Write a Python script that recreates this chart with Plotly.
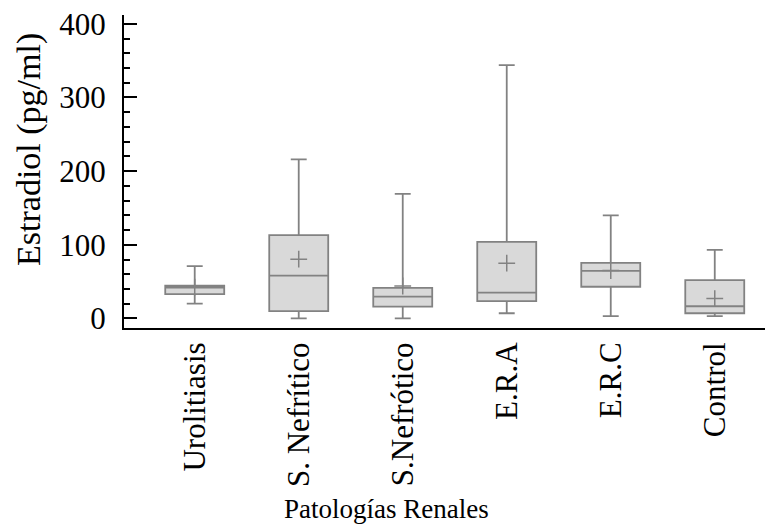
import plotly.graph_objects as go

categories = ["Urolitiasis", "S. Nefrítico", "S.Nefrótico", "E.R.A", "E.R.C", "Control"]
q1 = [33, 10, 16, 23.5, 43, 7]
median = [42, 58, 29.5, 35, 64.5, 16.5]
q3 = [44.5, 113, 41.5, 104, 75.5, 52]
lowerfence = [20, 0, 0, 7, 3, 3]
upperfence = [71, 216, 169, 344, 140, 93]
means = [42.5, 80.5, 44, 75, 65, 27]

x_title = "Patologías Renales"
y_title = "Estradiol (pg/ml)"

GRAY = "#828282"
FILL = "#d9d9d9"
FONT = "'Times New Roman', 'Liberation Serif', serif"

fig = go.Figure()
fig.add_trace(go.Box(
    x=categories, q1=q1, median=median, q3=q3,
    lowerfence=lowerfence, upperfence=upperfence,
    fillcolor=FILL, line=dict(color=GRAY, width=1.8),
    whiskerwidth=0.27, boxpoints=False, showlegend=False, hoverinfo="skip",
))
fig.add_trace(go.Scatter(
    x=categories, y=means, mode="markers",
    marker=dict(symbol="cross-thin", size=12, line=dict(color=GRAY, width=1.5)),
    showlegend=False, hoverinfo="skip",
))

fig.update_layout(
    width=765, height=519,
    margin=dict(l=116, r=0, t=7, b=199),
    plot_bgcolor="white", paper_bgcolor="white",
    boxgap=0.19,
    font=dict(family=FONT, color="black", size=28),
    xaxis=dict(
        range=[-0.68, 5.56], showline=True, linecolor="black", linewidth=2,
        ticks="", tickangle=-90, tickfont=dict(size=31, family=FONT),
        showgrid=False, zeroline=False, automargin=False,
    ),
    yaxis=dict(
        range=[-13, 412], showline=True, linecolor="black", linewidth=2,
        ticks="inside", ticklen=13, tickwidth=2, tickcolor="black",
        dtick=100, tick0=0, tickfont=dict(size=31, family=FONT),
        ticklabeloverflow="allow",
        minor=dict(ticks="inside", ticklen=6, tickwidth=2, tickcolor="black", dtick=20),
        showgrid=False, zeroline=False, ticklabelstandoff=10, automargin=False,
    ),
    annotations=[
        dict(text=x_title, xref="paper", yref="paper", x=0.405, y=-0.578,
             xanchor="center", yanchor="middle", showarrow=False,
             font=dict(size=27, family=FONT, color="black")),
        dict(text=y_title, xref="paper", yref="paper", x=-0.1464, y=0.572,
             xanchor="center", yanchor="middle", showarrow=False, textangle=-90,
             font=dict(size=34, family=FONT, color="black")),
    ],
)
fig.write_html("out.html")
